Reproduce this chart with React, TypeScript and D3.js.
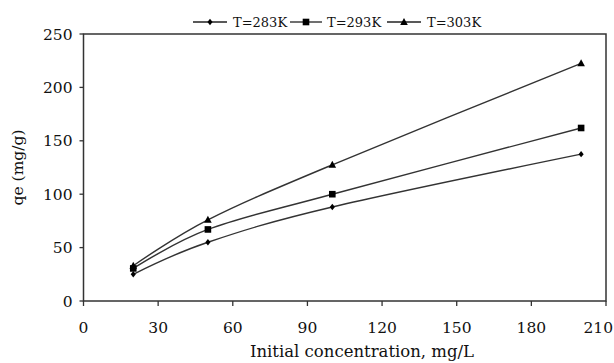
import React from "react";
import * as d3 from "d3";

const concentrations = [20, 50, 100, 200];
const seriesNames = ["T=283K", "T=293K", "T=303K"];
const qe283 = [25, 55, 88, 137.5];
const qe293 = [30.5, 67, 100, 162];
const qe303 = [33, 76, 127.5, 222.5];
const xTicks = [0, 30, 60, 90, 120, 150, 180, 210];
const yTicks = [0, 50, 100, 150, 200, 250];

const W = 614;
const H = 363;
const M = { left: 83.5, right: 606, top: 34, bottom: 301 };
const FONT = "'DejaVu Serif', serif";
const STROKE = "#333";

function Marker({ kind, x, y }: { kind: number; x: number; y: number }) {
  if (kind === 0) {
    const s = 3.2;
    return <path d={`M${x},${y - s}L${x + s * 0.8},${y}L${x},${y + s}L${x - s * 0.8},${y}Z`} fill="#000" />;
  }
  if (kind === 1) {
    return <rect x={x - 3.3} y={y - 3.3} width={6.6} height={6.6} fill="#000" />;
  }
  return <path d={`M${x},${y - 4}L${x + 3.8},${y + 3}L${x - 3.8},${y + 3}Z`} fill="#000" />;
}

export default function App() {
  const x = d3.scaleLinear().domain([0, 210]).range([M.left, M.right]);
  const y = d3.scaleLinear().domain([0, 250]).range([M.bottom, M.top]);
  const series = [qe283, qe293, qe303];
  const line = d3
    .line<number>()
    .x((_, i) => x(concentrations[i]))
    .y((d) => y(d))
    .curve(d3.curveCardinal.tension(0));

  const legendItems = [
    { lx: 193, rx: 227, mx: 210, tx: 233 },
    { lx: 290, rx: 322, mx: 306, tx: 327 },
    { lx: 387, rx: 421, mx: 404, tx: 427 },
  ];
  const legendY = 22;

  return (
    <svg
      width={W}
      height={H}
      style={{ position: "absolute", left: 0, top: 0, background: "#fff" }}
      fontFamily={FONT}
    >
      <rect x={0} y={0} width={W} height={H} fill="#fff" />
      <rect
        x={M.left}
        y={M.top}
        width={M.right - M.left}
        height={M.bottom - M.top}
        fill="none"
        stroke={STROKE}
        strokeWidth={1.5}
      />
      {xTicks.map((t, i) => {
        const last = i === xTicks.length - 1;
        return (
          <g key={"x" + t}>
            <line x1={x(t)} x2={x(t)} y1={M.bottom} y2={M.bottom + 5} stroke={STROKE} strokeWidth={1.3} />
            <text
              x={last ? W - 1 : x(t)}
              y={M.bottom + 32}
              textAnchor={last ? "end" : "middle"}
              fontSize={15.5}
              fill="#111"
            >
              {t}
            </text>
          </g>
        );
      })}
      {yTicks.map((t) => (
        <g key={"y" + t}>
          <line x1={M.left - 4} x2={M.left} y1={y(t)} y2={y(t)} stroke={STROKE} strokeWidth={1.3} />
          <text x={M.left - 11} y={y(t) + 5.5} textAnchor="end" fontSize={15.5} fill="#111">
            {t}
          </text>
        </g>
      ))}
      <text x={362} y={357} textAnchor="middle" fontSize={16.5} fill="#111">
        Initial concentration, mg/L
      </text>
      <text
        transform={`translate(23,${(M.top + M.bottom) / 2}) rotate(-90)`}
        textAnchor="middle"
        fontSize={15.5}
        fill="#111"
      >
        qe (mg/g)
      </text>
      {series.map((s, si) => (
        <g key={"s" + si}>
          <path d={line(s) || ""} fill="none" stroke="#333" strokeWidth={1.4} />
          {s.map((v, i) => (
            <Marker key={i} kind={si} x={x(concentrations[i])} y={y(v)} />
          ))}
        </g>
      ))}
      {legendItems.map((it, i) => (
        <g key={"l" + i}>
          <line x1={it.lx} x2={it.rx} y1={legendY} y2={legendY} stroke="#222" strokeWidth={1.3} />
          <Marker kind={i} x={it.mx} y={legendY} />
          <text x={it.tx} y={legendY + 4.5} fontSize={13} fill="#111">
            {seriesNames[i]}
          </text>
        </g>
      ))}
    </svg>
  );
}
